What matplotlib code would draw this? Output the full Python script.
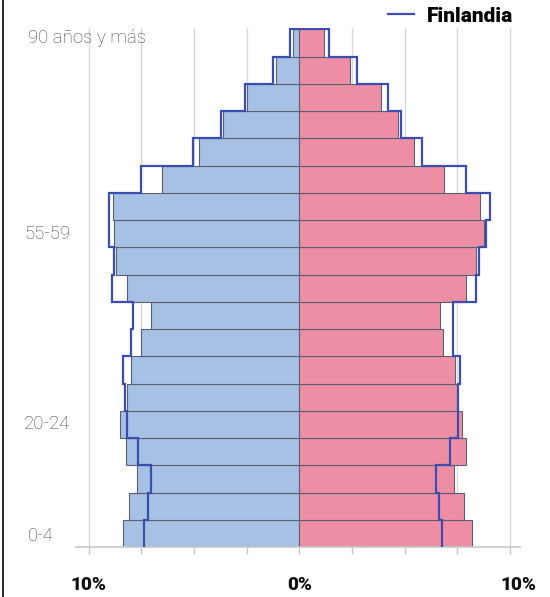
import numpy as np
import matplotlib
matplotlib.use("Agg")
import matplotlib.pyplot as plt
from matplotlib.lines import Line2D
from matplotlib import transforms

# ---- data (bottom to top) ----
age_groups = ["0-4", "5-9", "10-14", "15-19", "20-24", "25-29", "30-34", "35-39",
              "40-44", "45-49", "50-54", "55-59", "60-64", "65-69", "70-74",
              "75-79", "80-84", "85-89", "90 años y más"]
men = [8.35, 8.06, 7.69, 8.21, 8.49, 8.19, 8.00, 7.50, 7.05, 8.19,
       8.71, 8.79, 8.85, 6.51, 4.75, 3.64, 2.46, 1.10, 0.29]
women = [8.20, 7.81, 7.34, 7.91, 7.71, 7.49, 7.41, 6.81, 6.70, 7.91,
         8.41, 8.75, 8.56, 6.86, 5.46, 4.70, 3.86, 2.40, 1.15]
fin_men = [7.35, 7.16, 7.05, 7.66, 8.19, 8.26, 8.35, 8.00, 7.89, 8.91,
           8.80, 9.05, 9.01, 7.51, 5.05, 3.71, 2.60, 1.26, 0.45]
fin_women = [6.79, 6.61, 6.50, 7.16, 7.51, 7.55, 7.61, 7.31, 7.31, 8.40,
             8.55, 8.86, 9.05, 7.89, 5.81, 4.84, 4.19, 2.74, 1.41]
shown_labels = ["0-4", "20-24", "55-59", "90 años y más"]
xtick_vals = [-10, -7.5, -5, -2.5, 0, 2.5, 5, 7.5, 10]
xtick_text = {-10: "10%", 0: "0%", 10: "10%"}
legend_label = "Finlandia"

BLUE = "#a6c1e4"
PINK = "#ee8ea5"
EDGE = "#5a6072"
OUT = "#3b4eb0"
GRID = "#d9d9d9"

fig = plt.figure(figsize=(5.5, 5.97), dpi=100)
W, H = 550, 597
ax_l, ax_r, ax_top, ax_bot = 76, 520, 28, 547
ax = fig.add_axes([ax_l / W, (H - ax_bot) / H, (ax_r - ax_l) / W, (ax_bot - ax_top) / H])

n = len(age_groups)
y = np.arange(n)
men_a = np.array(men)
women_a = np.array(women)
fm = np.array(fin_men)
fw = np.array(fin_women)

ax.barh(y, -men_a, height=1.0, color=BLUE, edgecolor=EDGE, linewidth=0.8, zorder=2)
ax.barh(y, women_a, height=1.0, color=PINK, edgecolor=EDGE, linewidth=0.8, zorder=2)

# Finlandia step outline
ys = np.repeat(np.arange(n + 1) - 0.5, 2)[1:-1]
left_x = np.repeat(-fm, 2)
right_x = np.repeat(fw, 2)
px = np.concatenate([left_x, right_x[::-1]])
py = np.concatenate([ys, ys[::-1]])
outline, = ax.plot(px, py, color=OUT, lw=1.6, zorder=3, solid_joinstyle="miter")

px_per_pct = 21.07
center_px = 299.3
ax.set_xlim((ax_l - center_px) / px_per_pct, (ax_r - center_px) / px_per_pct)
row_px = 27.25
ax.set_ylim(-0.5, -0.5 + (ax_bot - ax_top) / row_px)

for s in ["top", "left", "right"]:
    ax.spines[s].set_visible(False)
ax.spines["bottom"].set_color("#c8c8c8")
ax.spines["bottom"].set_linewidth(1.2)
ax.set_yticks([])
ax.set_xticks(xtick_vals)
ax.set_xticklabels([xtick_text.get(v, "") for v in xtick_vals],
                   fontfamily="Roboto", fontweight="heavy", fontsize=13.7, color="#111111")
ax.tick_params(axis="x", direction="out", length=5, width=1, color="#c8c8c8", pad=16)
for v, lab in zip(xtick_vals, ax.get_xticklabels()):
    if v == 10:
        lab.set_transform(lab.get_transform() + transforms.ScaledTranslation(8 / 100, 0, fig.dpi_scale_trans))
ax.xaxis.grid(True, color=GRID, lw=1.0, zorder=0)
ax.set_axisbelow(True)

# age labels
trans = transforms.blended_transform_factory(fig.transFigure, ax.transData)
label_x = {"0-4": 28, "20-24": 24, "55-59": 24, "90 años y más": 28}
label_dy = {"0-4": -0.1, "20-24": 0.0, "55-59": 0.0, "90 años y más": 0.18}
for lab in shown_labels:
    i = age_groups.index(lab)
    ax.text(label_x[lab] / W, i + label_dy[lab], lab, transform=trans, ha="left", va="center",
            fontfamily="Roboto", fontweight="light", fontsize=13.4, color="#444444", zorder=1)

# legend
fig.legend(handles=[Line2D([], [], color=OUT, lw=1.6)], labels=[legend_label],
           loc="center right", bbox_to_anchor=(513 / W, 1 - 16 / H), frameon=False,
           prop={"family": "Roboto", "weight": "heavy", "size": 15},
           handlelength=1.25, handletextpad=0.6, borderaxespad=0, borderpad=0)

# left frame line
fig.add_artist(Line2D([3 / W, 3 / W], [0, 1], color="black", lw=1.2))

fig.savefig("out.png", dpi=100)
